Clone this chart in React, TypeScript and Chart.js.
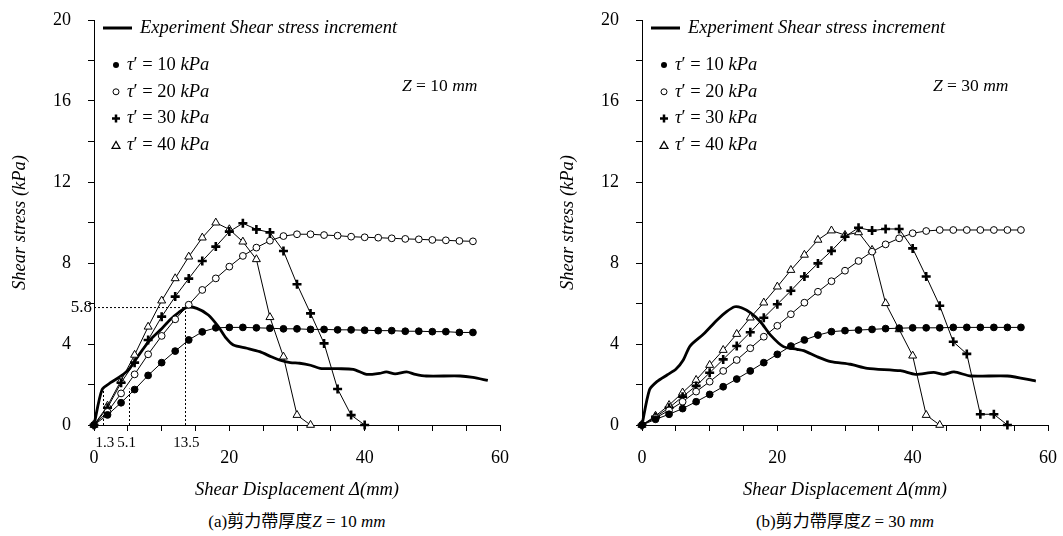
import React, { useEffect, useRef } from 'react';
import { Chart, registerables } from 'chart.js';

Chart.register(...registerables);

const FONT = '"Liberation Serif", "Times New Roman", Times, serif';
const CJK_FONT = '"Liberation Serif", "Noto Sans CJK TC", serif';

// ---------- axes ----------
const X_TICK_LABELS = [0, 20, 40, 60];
const X_MINOR_TICKS = [0, 5, 10, 15, 20, 25, 30, 35, 40, 45, 50, 55, 60];
const Y_TICK_LABELS = [0, 4, 8, 12, 16, 20];
const Y_MINOR_TICKS = [0, 2, 4, 6, 8, 10, 12, 14, 16, 18, 20];

// shear displacement of the simulated points (mm)
const DISP = [0, 2, 4, 6, 8, 10, 12, 14, 16, 18, 20, 22, 24, 26, 28, 30, 32, 34, 36, 38, 40, 42, 44, 46, 48, 50, 52, 54, 56];

const TAU_LEVELS = [10, 20, 30, 40];
const LEGEND_EXPERIMENT = 'Experiment Shear stress increment';

// ---------- panel (a) Z = 10 mm ----------
const A_TAU10 = [0, 0.5, 1.1, 1.75, 2.45, 3.08, 3.65, 4.2, 4.6, 4.8, 4.82, 4.82, 4.8, 4.78, 4.75, 4.75, 4.72, 4.72, 4.7, 4.7, 4.68, 4.66, 4.66, 4.63, 4.63, 4.61, 4.61, 4.57, 4.57];
const A_TAU20 = [0, 0.65, 1.56, 2.5, 3.49, 4.4, 5.22, 5.94, 6.67, 7.24, 7.82, 8.35, 8.76, 9.1, 9.33, 9.42, 9.42, 9.38, 9.35, 9.3, 9.27, 9.25, 9.22, 9.19, 9.17, 9.14, 9.12, 9.09, 9.07];
const A_TAU30 = [0, 0.85, 2.09, 3.08, 4.2, 5.35, 6.34, 7.23, 8.1, 8.81, 9.55, 9.96, 9.66, 9.51, 8.59, 6.95, 5.51, 4.03, 1.78, 0.49, 0];
const A_TAU40 = [0, 0.95, 2.2, 3.46, 4.85, 6.14, 7.24, 8.31, 9.25, 9.99, 9.66, 9.05, 8.18, 5.32, 3.37, 0.49, 0];
const A_EXP_X = [0, 1.2, 2.5, 4, 5.1, 6.5, 8.3, 10, 11.2, 12.5, 13.7, 15.2, 16.9, 18.4, 19.5, 20.6, 22.6, 24.5, 26.2, 27.5, 29, 30.4, 32, 33.4, 36, 38.3, 40.3, 42.2, 43.2, 44.5, 46.2, 47.5, 49.1, 54.1, 56, 58.2];
const A_EXP_Y = [0, 1.75, 2.1, 2.42, 2.72, 3.4, 4.2, 4.75, 5.19, 5.55, 5.81, 5.76, 5.43, 4.85, 4.3, 3.95, 3.79, 3.62, 3.37, 3.2, 3.08, 3.05, 2.95, 2.8, 2.78, 2.75, 2.5, 2.55, 2.62, 2.52, 2.62, 2.5, 2.42, 2.42, 2.35, 2.2];
const A_GUIDE_X = [1.3, 5.1, 13.5];
const A_GUIDE_TOP = [1.75, 1.8, 5.8];
const A_PEAK = 5.8;

// ---------- panel (b) Z = 30 mm ----------
const B_TAU10 = [0, 0.28, 0.53, 0.81, 1.15, 1.51, 1.89, 2.27, 2.67, 3.08, 3.49, 3.9, 4.2, 4.44, 4.61, 4.66, 4.69, 4.72, 4.76, 4.78, 4.8, 4.8, 4.8, 4.82, 4.82, 4.82, 4.82, 4.82, 4.82];
const B_TAU20 = [0, 0.35, 0.72, 1.15, 1.65, 2.14, 2.67, 3.21, 3.79, 4.36, 4.9, 5.47, 6.04, 6.58, 7.1, 7.62, 8.1, 8.56, 8.92, 9.22, 9.47, 9.58, 9.63, 9.63, 9.63, 9.63, 9.63, 9.63, 9.63];
const B_TAU30 = [0, 0.4, 0.85, 1.4, 1.93, 2.58, 3.24, 3.9, 4.58, 5.3, 5.96, 6.63, 7.33, 7.98, 8.6, 9.3, 9.74, 9.6, 9.68, 9.68, 8.72, 7.33, 5.89, 4.11, 3.51, 0.53, 0.53, 0];
const B_TAU40 = [0, 0.45, 0.98, 1.6, 2.22, 2.96, 3.7, 4.49, 5.3, 6.04, 6.83, 7.65, 8.4, 9.14, 9.6, 9.38, 9.51, 8.64, 6.01, 4.72, 3.42, 0.49, 0];
const B_EXP_X = [0, 1.1, 2.2, 3.7, 5.0, 6.1, 7.1, 9.1, 11.1, 12.5, 13.7, 14.7, 16, 17.5, 19, 20.9, 22.9, 23.9, 25.9, 27.9, 30.8, 33.3, 38.2, 40.4, 43.1, 44.6, 46.1, 48.6, 54, 58.2];
const B_EXP_Y = [0, 1.73, 2.14, 2.47, 2.75, 3.21, 3.9, 4.49, 5.19, 5.6, 5.84, 5.79, 5.55, 5.1, 4.44, 3.87, 3.74, 3.67, 3.37, 3.13, 3.0, 2.8, 2.68, 2.5, 2.6, 2.5, 2.62, 2.42, 2.42, 2.17];

type Kind = 'dot' | 'ring' | 'plus' | 'tri';
const KINDS: Kind[] = ['dot', 'ring', 'plus', 'tri'];

function drawMarker(ctx: CanvasRenderingContext2D, kind: Kind, x: number, y: number) {
  ctx.save();
  ctx.strokeStyle = '#000';
  ctx.fillStyle = '#000';
  if (kind === 'dot') {
    ctx.beginPath();
    ctx.arc(x, y, 3, 0, Math.PI * 2);
    ctx.fill();
  } else if (kind === 'ring') {
    ctx.lineWidth = 1;
    ctx.beginPath();
    ctx.arc(x, y, 3, 0, Math.PI * 2);
    ctx.fillStyle = '#fff';
    ctx.fill();
    ctx.stroke();
  } else if (kind === 'plus') {
    ctx.lineWidth = 2.5;
    ctx.beginPath();
    ctx.moveTo(x - 4, y);
    ctx.lineTo(x + 4, y);
    ctx.moveTo(x, y - 4);
    ctx.lineTo(x, y + 4);
    ctx.stroke();
  } else {
    ctx.lineWidth = 1.2;
    ctx.beginPath();
    ctx.moveTo(x, y - 4);
    ctx.lineTo(x + 4, y + 3);
    ctx.lineTo(x - 4, y + 3);
    ctx.closePath();
    ctx.stroke();
  }
  ctx.restore();
}

function drawRuns(ctx: CanvasRenderingContext2D, runs: [string, boolean][], x: number, y: number, size: number) {
  let cx = x;
  for (const [t, it] of runs) {
    ctx.font = `${it ? 'italic ' : ''}${size}px ${FONT}`;
    ctx.fillText(t, cx, y);
    cx += ctx.measureText(t).width;
  }
}

interface PanelProps {
  tau: number[][];
  expX: number[];
  expY: number[];
  zValue: number;
  zLabelX: number;
  guides: boolean;
}

function Panel({ tau, expX, expY, zValue, zLabelX, guides }: PanelProps) {
  const ref = useRef<HTMLCanvasElement | null>(null);

  useEffect(() => {
    if (!ref.current) return;
    const overlay = {
      id: 'overlay',
      afterDraw(chart: any) {
        const ctx: CanvasRenderingContext2D = chart.ctx;
        const xs = chart.scales.x;
        const ys = chart.scales.y;
        ctx.save();
        ctx.fillStyle = '#000';
        ctx.strokeStyle = '#000';
        ctx.textBaseline = 'middle';
        ctx.textAlign = 'left';
        // legend
        ctx.lineWidth = 3;
        ctx.beginPath();
        ctx.moveTo(103, 28);
        ctx.lineTo(132, 28);
        ctx.stroke();
        drawRuns(ctx, [[LEGEND_EXPERIMENT, true]], 140, 28, 18.5);
        TAU_LEVELS.forEach((lv, i) => {
          const y = 65 + i * 26.8;
          drawMarker(ctx, KINDS[i], 116, y);
          drawRuns(ctx, [['τ', true], ['′ = ' + lv + ' ', false], ['kPa', true]], 127, y, 18.5);
        });
        // Z label
        drawRuns(ctx, [['Z', true], [' = ' + zValue + ' ', false], ['mm', true]], zLabelX, 86, 17.5);
        // guide lines
        if (guides) {
          ctx.lineWidth = 1;
          ctx.setLineDash([2, 2]);
          ctx.beginPath();
          ctx.moveTo(xs.getPixelForValue(0), ys.getPixelForValue(A_PEAK));
          ctx.lineTo(xs.getPixelForValue(A_GUIDE_X[2]), ys.getPixelForValue(A_PEAK));
          A_GUIDE_X.forEach((gx, i) => {
            const px = Math.round(xs.getPixelForValue(gx)) + 0.5;
            ctx.moveTo(px, ys.getPixelForValue(0));
            ctx.lineTo(px, ys.getPixelForValue(A_GUIDE_TOP[i]));
          });
          ctx.stroke();
          ctx.setLineDash([]);
          ctx.font = `15px ${FONT}`;
          ctx.textAlign = 'center';
          const offs = [2, -2, 1];
          A_GUIDE_X.forEach((gx, i) => {
            ctx.fillText(String(gx), xs.getPixelForValue(gx) + offs[i], 443);
          });
          ctx.textAlign = 'right';
          ctx.font = `17px ${FONT}`;
          ctx.fillText(String(A_PEAK), xs.left - 2, ys.getPixelForValue(A_PEAK));
        }
        ctx.restore();
      },
    };

    const styles: any[] = [
      { pointStyle: 'circle', pointRadius: 3.4, pointBackgroundColor: '#000', pointBorderWidth: 1 },
      { pointStyle: 'circle', pointRadius: 3.4, pointBackgroundColor: '#fff', pointBorderWidth: 1 },
      { pointStyle: 'cross', pointRadius: 4.5, pointBackgroundColor: '#000', pointBorderWidth: 2.6 },
      { pointStyle: 'triangle', pointRadius: 4.6, pointBackgroundColor: '#fff', pointBorderWidth: 1 },
    ];

    const datasets: any[] = tau.map((vals, i) => ({
      label: 'τ′ = ' + TAU_LEVELS[i] + ' kPa',
      data: vals.map((v, j) => ({ x: DISP[j], y: v })),
      borderColor: '#000',
      borderWidth: 1,
      pointBorderColor: '#000',
      tension: 0,
      clip: false,
      ...styles[i],
    }));
    datasets.push({
      label: LEGEND_EXPERIMENT,
      data: expX.map((x, j) => ({ x, y: expY[j] })),
      borderColor: '#000',
      borderWidth: 2.8,
      pointRadius: 0,
      tension: 0.25,
      clip: false,
    });

    const chart = new Chart(ref.current, {
      type: 'line',
      data: { datasets },
      options: {
        animation: false,
        responsive: false,
        maintainAspectRatio: false,
        layout: { padding: { left: 0, top: 20, right: 15, bottom: 0 } },
        plugins: { legend: { display: false }, tooltip: { enabled: false } },
        scales: {
          x: {
            type: 'linear',
            min: 0,
            max: 60,
            afterFit: (s: any) => {
              s.height = 80;
              s.paddingLeft = 0;
              s.paddingRight = 0;
            },
            afterBuildTicks: (s: any) => { s.ticks = X_MINOR_TICKS.map((v) => ({ value: v })); },
            ticks: {
              autoSkip: false,
              maxRotation: 0,
              padding: 16,
              color: '#000',
              font: { family: FONT, size: 18 },
              callback: (v: any) => (X_TICK_LABELS.includes(Number(v)) ? String(v) : ''),
            },
            grid: { drawOnChartArea: false, drawTicks: true, tickLength: 6, color: '#000' },
            border: { color: '#000', width: 1 },
            title: {
              display: true,
              text: 'Shear Displacement Δ(mm)',
              color: '#000',
              font: { family: FONT, size: 18.5, style: 'italic' },
              padding: { top: 0, bottom: 4 },
            },
          },
          y: {
            type: 'linear',
            min: 0,
            max: 20,
            afterFit: (s: any) => {
              s.width = 94;
              s.paddingTop = 0;
              s.paddingBottom = 0;
            },
            afterBuildTicks: (s: any) => { s.ticks = Y_MINOR_TICKS.map((v) => ({ value: v })); },
            ticks: {
              autoSkip: false,
              padding: 17,
              color: '#000',
              font: { family: FONT, size: 18 },
              callback: (v: any) => (Y_TICK_LABELS.includes(Number(v)) ? String(v) : ''),
            },
            grid: { drawOnChartArea: false, drawTicks: true, tickLength: 6, color: '#000' },
            border: { color: '#000', width: 1 },
            title: {
              display: true,
              text: 'Shear stress (kPa)',
              color: '#000',
              font: { family: FONT, size: 18.5, style: 'italic' },
              padding: { top: 9, bottom: 0 },
            },
          },
        },
      },
      plugins: [overlay],
    });
    return () => chart.destroy();
  }, [tau, expX, expY, zValue, zLabelX, guides]);

  return <canvas ref={ref} width={515} height={505} style={{ display: 'block', width: 515, height: 505 }} />;
}

function Caption({ letter, z }: { letter: string; z: number }) {
  return (
    <div style={{ fontFamily: CJK_FONT, fontSize: 17, lineHeight: '20px', textAlign: 'center', color: '#000', whiteSpace: 'nowrap' }}>
      ({letter})剪力帶厚度<i>Z</i> = {z} <i>mm</i>
    </div>
  );
}

const A_TAU = [A_TAU10, A_TAU20, A_TAU30, A_TAU40];
const B_TAU = [B_TAU10, B_TAU20, B_TAU30, B_TAU40];

export default function App() {
  return (
    <div style={{ position: 'absolute', left: 0, top: 0, width: 1063, height: 536, background: '#fff', overflow: 'hidden' }}>
      <div style={{ position: 'absolute', left: 0, top: 0 }}>
        <Panel tau={A_TAU} expX={A_EXP_X} expY={A_EXP_Y} zValue={10} zLabelX={402} guides={true} />
      </div>
      <div style={{ position: 'absolute', left: 548, top: 0 }}>
        <Panel tau={B_TAU} expX={B_EXP_X} expY={B_EXP_Y} zValue={30} zLabelX={385} guides={false} />
      </div>
      <div style={{ position: 'absolute', left: 97, width: 400, top: 512 }}>
        <Caption letter="a" z={10} />
      </div>
      <div style={{ position: 'absolute', left: 645, width: 400, top: 512 }}>
        <Caption letter="b" z={30} />
      </div>
    </div>
  );
}
